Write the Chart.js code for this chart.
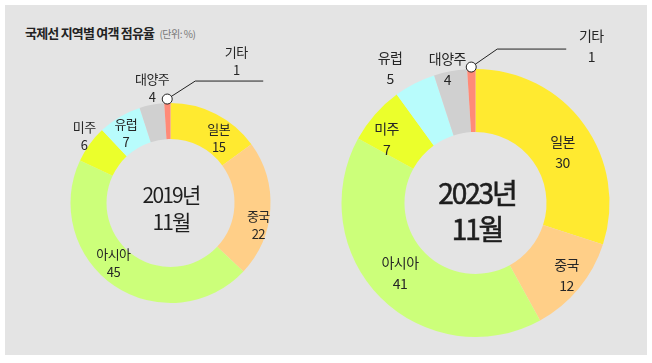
<!DOCTYPE html>
<html>
<head>
<meta charset="utf-8">
<script src="https://cdn.jsdelivr.net/npm/chart.js@4.4.1/dist/chart.umd.min.js"></script>
<style>
body { margin: 0; background: #fff; font-family: "Noto Sans CJK KR", sans-serif; }
#wrap { position: relative; width: 652px; height: 363px; overflow: hidden; }
#bg { position: absolute; left: 5px; top: 5px; width: 642px; height: 350px; background: #e4e4e4; }
canvas { position: absolute; left: 0; top: 0; }
.title { position: absolute; left: 25px; top: 23px; font-size: 13px; font-weight: bold; letter-spacing: -0.8px; color: #222; white-space: nowrap; }
.title span { font-size: 10px; font-weight: normal; color: #777; letter-spacing: -0.5px; margin-left: 3px; }
.center { position: absolute; text-align: center; color: #1e1e1e; white-space: nowrap; transform: translate(-50%, -50%); }
</style>
</head>
<body>
<div id="wrap">
  <div id="bg"></div>
  <div class="title">국제선 지역별 여객 점유율 <span>(단위: %)</span></div>
  <canvas id="chart1" width="652" height="363"></canvas>
  <canvas id="chart2" width="652" height="363"></canvas>
  <div class="center" style="left:171px;top:208px;font-size:21px;letter-spacing:-1.8px;line-height:27px;">2019년<br>11월</div>
  <div class="center" style="left:477px;top:210px;font-size:28px;letter-spacing:-2.1px;line-height:36px;-webkit-text-stroke:0.6px #1e1e1e;">2023년<br>11월</div>
</div>
<script>
// data
const regions = ['일본', '중국', '아시아', '미주', '유럽', '대양주', '기타'];
const share2019 = [15, 22, 45, 6, 7, 4, 1];
const share2023 = [30, 12, 41, 7, 5, 4, 1];
const colors = ['#ffea30', '#ffcf88', '#ccff7a', '#ebff2c', '#b8fcfc', '#d0d0d0', '#ff8a78'];

// label plugin: name + value near the middle of each slice, last one gets a leader line
const sliceLabels = {
  id: 'sliceLabels',
  afterDatasetsDraw(chart, args, opts) {
    const ctx = chart.ctx;
    const meta = chart.getDatasetMeta(0);
    const values = chart.data.datasets[0].data;
    const names = chart.data.labels;
    ctx.save();
    ctx.font = opts.size + 'px "Noto Sans CJK KR"';
    ctx.letterSpacing = '-0.6px';
    ctx.fillStyle = '#262626';
    ctx.textAlign = 'center';
    ctx.textBaseline = 'middle';
    meta.data.forEach((arc, i) => {
      const p = arc.getProps(['x', 'y', 'startAngle', 'endAngle', 'innerRadius', 'outerRadius'], true);
      const mid = (p.startAngle + p.endAngle) / 2;
      if (i === meta.data.length - 1) {
        const L = opts.leader;
        const px = p.x + Math.cos(mid) * (p.outerRadius + L.gap);
        const py = p.y + Math.sin(mid) * (p.outerRadius + L.gap);
        ctx.strokeStyle = '#222';
        ctx.lineWidth = 1;
        ctx.beginPath();
        ctx.moveTo(px, py);
        ctx.lineTo(px + L.dx1, py + L.dy1);
        ctx.lineTo(px + L.dx2, py + L.dy1);
        ctx.stroke();
        ctx.beginPath();
        ctx.arc(px, py, 5, 0, Math.PI * 2);
        ctx.fillStyle = '#fff';
        ctx.fill();
        ctx.stroke();
        ctx.fillStyle = '#262626';
        ctx.fillText(names[i], px + L.tx, py + L.ty);
        ctx.fillText(values[i], px + L.tx, py + L.ty + opts.gap);
        return;
      }
      const r = (p.innerRadius + p.outerRadius) / 2;
      const off = opts.offsets[i];
      const x = p.x + Math.cos(mid) * r + off[0];
      const y = p.y + Math.sin(mid) * r + off[1];
      ctx.fillText(names[i], x, y - opts.gap / 2);
      ctx.fillText(values[i], x, y + opts.gap / 2);
    });
    ctx.restore();
  }
};

function makeDonut(id, values, cutout, padding, labelOpts) {
  return new Chart(document.getElementById(id), {
    type: 'doughnut',
    data: {
      labels: regions,
      datasets: [{
        data: values,
        backgroundColor: colors,
        borderWidth: 0
      }]
    },
    options: {
      responsive: false,
      animation: false,
      cutout: cutout,
      layout: { padding: padding },
      plugins: {
        legend: { display: false },
        tooltip: { enabled: false },
        sliceLabels: labelOpts
      }
    },
    plugins: [sliceLabels]
  });
}

// chart 2019
makeDonut('chart1', share2019, '64%',
  { left: 70.5, top: 103, right: 381.5, bottom: 60 },
  {
    size: 13, gap: 18,
    offsets: [[11, 8], [6, 17], [-11, -8], [-20, -19], [-3, 1], [-3, -34]],
    leader: { gap: 4, dx1: 28, dy1: -18, dx2: 96, tx: 69, ty: -47 }
  });

// chart 2023
makeDonut('chart2', share2023, '53%',
  { left: 341.5, top: 69, right: 42.5, bottom: 26 },
  {
    size: 14, gap: 21,
    offsets: [[4, 9], [12, 7], [-3, -2], [-12, 4], [-39, -43], [-9, -33]],
    leader: { gap: 2, dx1: 26, dy1: -18, dx2: 95, tx: 120, ty: -31 }
  });
</script>
</body>
</html>
